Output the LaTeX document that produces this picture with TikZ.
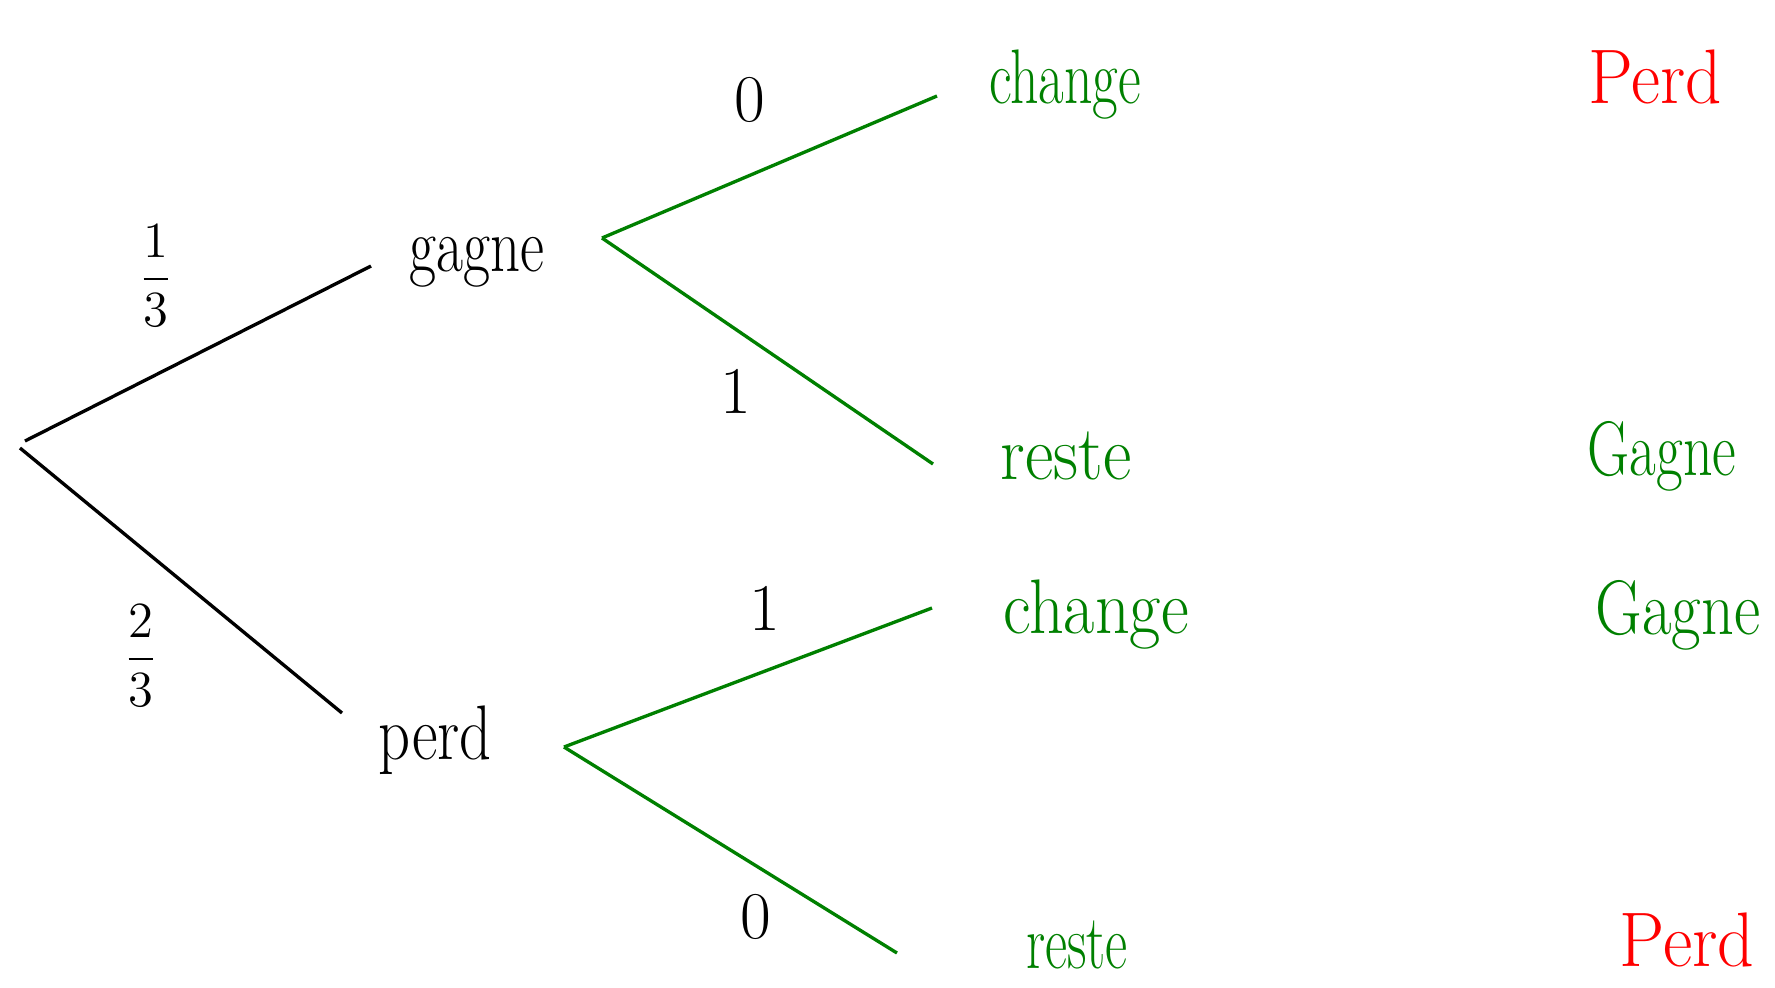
\documentclass[tikz,border=0pt]{standalone}
\usepackage{amsmath}
\newcommand\hwtext[2]{\scalebox{#1}[1]{#2}}
\begin{document}
\begin{tikzpicture}[x=0.01cm,y=-0.01cm,
  blk/.style={line width=0.95pt,black},
  grn/.style={line width=0.95pt,draw={rgb,255:red,0;green,128;blue,0}},
  lab/.style={font=\fontsize{22}{24}\selectfont},
  dig/.style={font=\fontsize{19}{21}\selectfont},
  glab/.style={lab,text={rgb,255:red,0;green,128;blue,0}},
  rlab/.style={lab,text={rgb,255:red,255;green,0;blue,0}},
  frac/.style={font=\fontsize{15}{17}\selectfont}]
\useasboundingbox (0,0) rectangle (1775,987);
% root
\coordinate (r1) at (25,441);
\coordinate (r2) at (20,448);
\coordinate (g0) at (371,266);
\coordinate (p0) at (342,713);
\draw[blk] (r1) -- (g0);
\draw[blk] (r2) -- (p0);
\node[frac] (f1) at (156,276) {$\dfrac{1}{3}$};
\node[frac] (f2) at (141,656) {$\dfrac{2}{3}$};
\node[lab] (gagne) at (477,262) {\hwtext{0.76}{gagne}};
\node[lab] (perd) at (435,740) {\hwtext{0.81}{perd}};
% upper green
\coordinate (gs) at (602,238);
\coordinate (gc) at (937,96);
\coordinate (gr) at (933,464);
\draw[grn] (gs) -- (gc);
\draw[grn] (gs) -- (gr);
\node[dig] (z1) at (750,100) {0};
\node[dig] (o1) at (736,391) {1};
\node[glab] (c1) at (1065,85) {\hwtext{0.72}{change}};
\node[glab] (re1) at (1066,456) {\hwtext{0.9}{reste}};
% lower green
\coordinate (ps) at (564,747);
\coordinate (pc) at (932,608);
\coordinate (pr) at (897,953);
\draw[grn] (ps) -- (pc);
\draw[grn] (ps) -- (pr);
\node[dig] (o2) at (765,608) {1};
\node[dig] (z2) at (756,917) {0};
\node[glab] (c2) at (1096,615) {\hwtext{0.88}{change}};
\node[glab] (re2) at (1077,945) {\hwtext{0.7}{reste}};
% outcomes
\node[rlab] (P1) at (1655,77) {\hwtext{0.92}{Perd}};
\node[glab] (G1) at (1662,456) {\hwtext{0.75}{Gagne}};
\node[glab] (G2) at (1678,615) {\hwtext{0.83}{Gagne}};
\node[rlab] (P2) at (1687,940) {\hwtext{0.93}{Perd}};
\end{tikzpicture}
\end{document}
